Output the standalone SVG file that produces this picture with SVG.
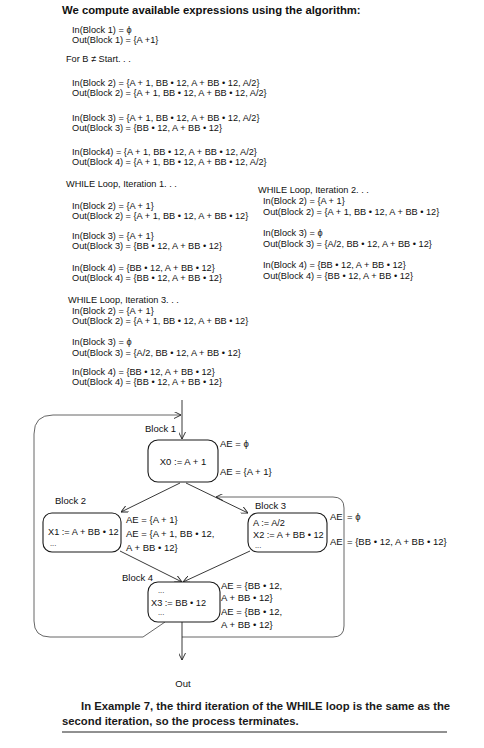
<svg xmlns="http://www.w3.org/2000/svg" width="484" height="748" viewBox="0 0 484 748">
<style>
text { font-family: "Liberation Sans", Arial, Helvetica, sans-serif; fill: #111; }
.h { font-size: 11.3px; font-weight: bold; }
.p { font-size: 11.3px; font-weight: bold; fill: #1a1a1a; }
.t { font-size: 9.2px; }
.d { font-size: 9.5px; }
.s { font-size: 7.5px; }
.box { fill: #fff; stroke: #1a1a1a; stroke-width: 1.1; }
.edge { fill: none; stroke: #222; stroke-width: 0.9; marker-end: url(#arr); }
.loop { fill: none; stroke: #555; stroke-width: 0.9; }
.rule { stroke: #222; stroke-width: 1; }
</style>
<defs>
<marker id="arr" viewBox="0 0 10 10" refX="10" refY="5" markerWidth="7" markerHeight="7" markerUnits="userSpaceOnUse" orient="auto">
<path d="M0,0 L10,5 L0,10" fill="none" stroke="#222" stroke-width="1.3"/>
</marker>
</defs>
<rect width="484" height="748" fill="#fff"/>

<g id="text-top">
<text class="h" x="62" y="14">We compute available expressions using the algorithm:</text>
<text class="t" x="72" y="33">In(Block 1) = ϕ</text>
<text class="t" x="72" y="43">Out(Block 1) = {A +1}</text>
<text class="t" x="66" y="62">For B ≠ Start. . .</text>
<text class="t" x="72" y="86">In(Block 2) = {A + 1, BB • 12, A + BB • 12, A/2}</text>
<text class="t" x="72" y="96">Out(Block 2) = {A + 1, BB • 12, A + BB • 12, A/2}</text>
<text class="t" x="72" y="121">In(Block 3) = {A + 1, BB • 12, A + BB • 12, A/2}</text>
<text class="t" x="72" y="131">Out(Block 3) = {BB • 12, A + BB • 12}</text>
<text class="t" x="72" y="155">In(Block4) = {A + 1, BB • 12, A + BB • 12, A/2}</text>
<text class="t" x="72" y="165">Out(Block 4) = {A + 1, BB • 12, A + BB • 12, A/2}</text>

<text class="t" x="66" y="187">WHILE Loop, Iteration 1. . .</text>
<text class="t" x="72" y="209">In(Block 2) = {A + 1}</text>
<text class="t" x="72" y="219">Out(Block 2) = {A + 1, BB • 12, A + BB • 12}</text>
<text class="t" x="72" y="239">In(Block 3) = {A + 1}</text>
<text class="t" x="72" y="249">Out(Block 3) = {BB • 12, A + BB • 12}</text>
<text class="t" x="72" y="271">In(Block 4) = {BB • 12, A + BB • 12}</text>
<text class="t" x="72" y="281">Out(Block 4) = {BB • 12, A + BB • 12}</text>

<text class="t" x="258" y="193">WHILE Loop, Iteration 2. . .</text>
<text class="t" x="263" y="204">In(Block 2) = {A + 1}</text>
<text class="t" x="263" y="215">Out(Block 2) = {A + 1, BB • 12, A + BB • 12}</text>
<text class="t" x="263" y="236">In(Block 3) = ϕ</text>
<text class="t" x="263" y="247">Out(Block 3) = {A/2, BB • 12, A + BB • 12}</text>
<text class="t" x="263" y="268">In(Block 4) = {BB • 12, A + BB • 12}</text>
<text class="t" x="263" y="279">Out(Block 4) = {BB • 12, A + BB • 12}</text>

<text class="t" x="68" y="303">WHILE Loop, Iteration 3. . .</text>
<text class="t" x="72" y="314">In(Block 2) = {A + 1}</text>
<text class="t" x="72" y="324">Out(Block 2) = {A + 1, BB • 12, A + BB • 12}</text>
<text class="t" x="72" y="345">In(Block 3) = ϕ</text>
<text class="t" x="72" y="356">Out(Block 3) = {A/2, BB • 12, A + BB • 12}</text>
<text class="t" x="72" y="375">In(Block 4) = {BB • 12, A + BB • 12}</text>
<text class="t" x="72" y="385">Out(Block 4) = {BB • 12, A + BB • 12}</text>
</g>

<g id="connectors">
<path class="edge" d="M182,400 L182,439"/>
<path class="loop" d="M165,622 L143,637 L50,637 Q34,637 34,621 L34,434 Q34,415 53,415 L181,415" marker-end="url(#arr)"/>
<path class="loop" d="M182,637 L333,637 Q344,637 344,626 L344,508 Q344,497 333,497 L216,497" marker-end="url(#arr)"/>
<path class="edge" d="M180,483 L121,512"/>
<path class="edge" d="M186,483 L248,513"/>
<path class="edge" d="M120,551 L182,582"/>
<path class="edge" d="M250,551 L183,582"/>
<path class="edge" d="M182,622 L182,660"/>
</g>

<g id="block1">
<rect class="box" x="148" y="440" width="70" height="42" rx="10"/>
<text class="d" x="145" y="432">Block 1</text>
<text class="d" x="183" y="465" text-anchor="middle">X0 := A + 1</text>
<text class="d" x="220" y="447">AE = ϕ</text>
<text class="d" x="220" y="475">AE = {A + 1}</text>
</g>

<g id="block2">
<rect class="box" x="43" y="513" width="78" height="39" rx="9"/>
<text class="d" x="55" y="504">Block 2</text>
<text class="t" x="48" y="535">X1 := A + BB • 12</text>
<text class="s" x="50" y="546">...</text>
<text class="d" x="126" y="523">AE = {A + 1}</text>
<text class="d" x="126" y="537">AE = {A + 1, BB • 12,</text>
<text class="d" x="126" y="551">A + BB • 12}</text>
</g>

<g id="block3">
<rect class="box" x="248" y="513" width="79" height="39" rx="10"/>
<text class="d" x="255" y="509">Block 3</text>
<text class="t" x="253" y="526">A := A/2</text>
<text class="t" x="253" y="538">X2 := A + BB • 12</text>
<text class="s" x="255" y="548">...</text>
<text class="d" x="330" y="520">AE</text>
<text class="d" x="347" y="520">= ϕ</text>
<text class="d" x="330" y="545">AE</text>
<text class="d" x="347" y="545">= {BB • 12, A + BB • 12}</text>
</g>

<g id="block4">
<rect class="box" x="148" y="582" width="72" height="40" rx="10"/>
<text class="d" x="122" y="581">Block 4</text>
<text class="s" x="158" y="593">...</text>
<text class="t" x="151" y="606">X3 := BB • 12</text>
<text class="s" x="158" y="615">...</text>
<text class="d" x="221" y="589">AE = {BB • 12,</text>
<text class="d" x="221" y="601">A + BB • 12}</text>
<text class="d" x="221" y="615">AE = {BB • 12,</text>
<text class="d" x="221" y="628">A + BB • 12}</text>
</g>

<g id="out">
<text class="d" x="183" y="687" text-anchor="middle">Out</text>
</g>

<g id="text-bottom">
<text class="p" x="81" y="710">In Example 7, the third iteration of the WHILE loop is the same as the</text>
<text class="p" x="62" y="725">second iteration, so the process terminates.</text>
<line class="rule" x1="62" y1="732" x2="447" y2="732"/>
</g>
</svg>
